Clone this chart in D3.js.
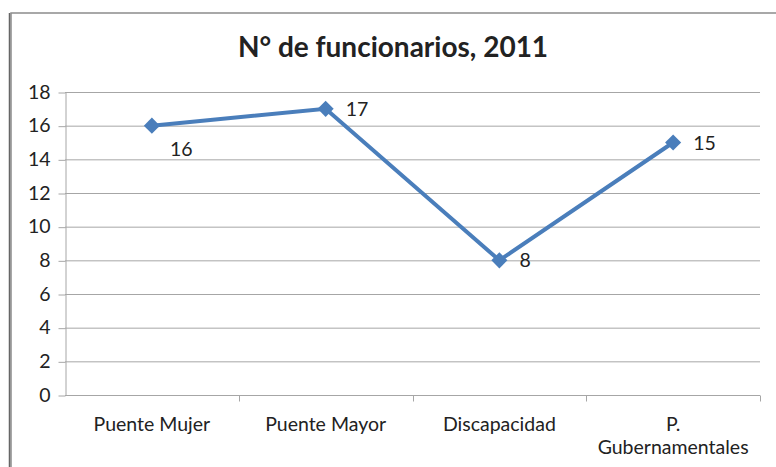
<!DOCTYPE html>
<html>
<head>
<meta charset="utf-8">
<script src="https://cdn.jsdelivr.net/npm/d3@7"></script>
<style>
  body { margin: 0; background: #fff; }
  text { font-family: Lato, "Open Sans", sans-serif; fill: #222; }
  .grid line { stroke: #a6a6a6; stroke-width: 1; }
  .axis path, .axis line { stroke: #a6a6a6; }
</style>
</head>
<body>
<svg width="776" height="467"></svg>
<script>
var categories = ["Puente Mujer", "Puente Mayor", "Discapacidad", "P. Gubernamentales"];
var values = [16, 17, 8, 15];
var labelSide = ["below", "right", "right", "right"];
var yTicks = [0, 2, 4, 6, 8, 10, 12, 14, 16, 18];
var title = "N° de funcionarios, 2011";

var svg = d3.select("svg"),
  margin = {top: 92, right: 16, bottom: 72, left: 65},
  width = +svg.attr("width") - margin.left - margin.right,
  height = +svg.attr("height") - margin.top - margin.bottom;

// outer frame (runs off the right and bottom edges)
svg.append("rect")
  .attr("x", 11).attr("y", 13)
  .attr("width", 800).attr("height", 500)
  .attr("fill", "none")
  .attr("stroke", "#8c8c8c")
  .attr("stroke-width", 1.5);
svg.append("line")
  .attr("x1", 9.5).attr("x2", 9.5).attr("y1", 13).attr("y2", 467)
  .attr("stroke", "#666").attr("stroke-width", 1.5);

svg.append("text")
  .attr("x", 393).attr("y", 57)
  .attr("text-anchor", "middle")
  .style("font-size", "28px")
  .style("font-weight", "bold")
  .text(title);

var g = svg.append("g").attr("transform", "translate(" + margin.left + "," + margin.top + ")");

var x = d3.scaleBand().domain(categories).range([0, width]);
var y = d3.scaleLinear().domain([0, 18]).range([height, 0]);

// gridlines
g.append("g").attr("class", "grid")
  .selectAll("line").data(yTicks.filter(function(d) { return d > 0; }))
  .enter().append("line")
  .attr("x1", 0).attr("x2", width)
  .attr("y1", function(d) { return y(d) + 0.5; })
  .attr("y2", function(d) { return y(d) + 0.5; });

// y axis
var yAxis = g.append("g").attr("class", "axis")
  .attr("transform", "translate(0.5,0)")
  .call(d3.axisLeft(y).tickValues(yTicks).tickSize(7).tickPadding(8).tickSizeOuter(0));
yAxis.selectAll("text").style("font-size", "19.5px").attr("fill", "#222");
yAxis.selectAll(".tick line").attr("transform", "translate(0,0.5)");

// x axis with ticks at band boundaries
var xAxis = g.append("g").attr("class", "axis")
  .attr("transform", "translate(0," + (height + 0.5) + ")");
xAxis.append("line").attr("x1", 0).attr("x2", width).attr("y1", 0).attr("y2", 0);
xAxis.selectAll(".bt").data(categories).enter().append("line")
  .attr("x1", function(d) { return Math.round(x(d) + x.bandwidth()) + 0.5; })
  .attr("x2", function(d) { return Math.round(x(d) + x.bandwidth()) + 0.5; })
  .attr("y1", 0).attr("y2", 6);
xAxis.selectAll(".lbl").data(categories).enter().append("text")
  .attr("text-anchor", "middle")
  .style("font-size", "19.5px")
  .attr("x", function(d) { return x(d) + x.bandwidth() / 2; })
  .attr("y", 35)
  .each(function(d) {
    var t = d3.select(this);
    if (d === "P. Gubernamentales") {
      t.append("tspan").attr("x", x(d) + x.bandwidth() / 2).attr("dy", 0).text("P.");
      t.append("tspan").attr("x", x(d) + x.bandwidth() / 2).attr("dy", 23).text("Gubernamentales");
    } else {
      t.text(d);
    }
  });

var line = d3.line()
  .x(function(d, i) { return x(categories[i]) + x.bandwidth() / 2; })
  .y(function(d) { return y(d); });

g.append("path")
  .datum(values)
  .attr("fill", "none")
  .attr("stroke", "#4a7ebb")
  .attr("stroke-width", 4)
  .attr("d", line);

g.selectAll(".pt").data(values).enter().append("path")
  .attr("fill", "#4a7ebb")
  .attr("d", d3.symbol().type(d3.symbolDiamond2).size(165))
  .attr("transform", function(d, i) {
    return "translate(" + (x(categories[i]) + x.bandwidth() / 2) + "," + y(d) + ")";
  });

g.selectAll(".vl").data(values).enter().append("text")
  .style("font-size", "19.5px")
  .attr("x", function(d, i) { return x(categories[i]) + x.bandwidth() / 2 + (labelSide[i] === "below" ? 18 : 20); })
  .attr("y", function(d, i) { return y(d) + (labelSide[i] === "below" ? 30 : 7); })
  .text(function(d) { return d; });
</script>
</body>
</html>
